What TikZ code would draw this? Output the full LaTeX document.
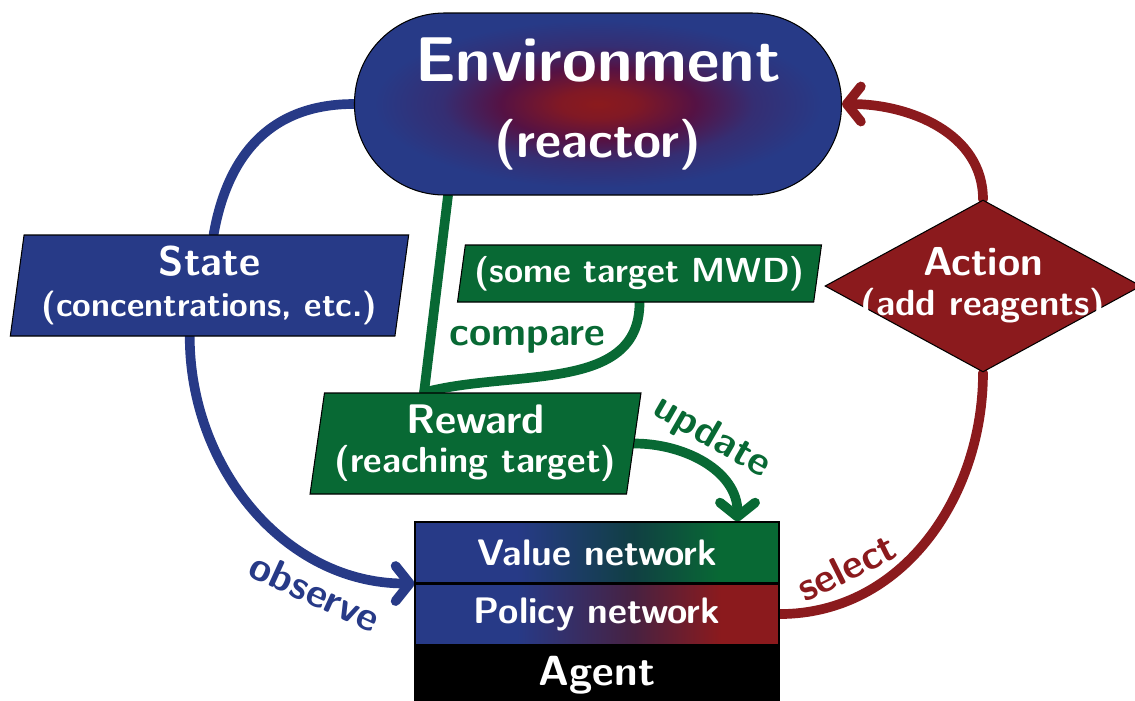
\documentclass[tikz,border=0pt]{standalone}
\usetikzlibrary{positioning,shapes.geometric,arrows.meta,backgrounds}
\definecolor{rlblue}{RGB}{39,58,135}
\definecolor{rlgreen}{RGB}{8,105,52}
\definecolor{rlred}{RGB}{139,26,29}
\definecolor{rlpurple}{RGB}{85,18,68}
\pgfdeclareradialshading{envglow}{\pgfpoint{0bp}{0bp}}{color(0bp)=(rlred); color(4bp)=(rlred!80!rlpurple); color(10bp)=(rlpurple); color(16bp)=(rlblue!70!rlpurple); color(23bp)=(rlblue); color(50bp)=(rlblue)}
\pgfdeclarehorizontalshading{valueshade}{100bp}{color(0bp)=(rlblue); color(39bp)=(rlblue); color(55bp)=(rlblue!45!rlgreen!75!black); color(67bp)=(rlgreen); color(100bp)=(rlgreen)}
\pgfdeclarehorizontalshading{policyshade}{100bp}{color(0bp)=(rlblue); color(39bp)=(rlblue); color(55bp)=(rlblue!50!rlred!80!black); color(67bp)=(rlred); color(100bp)=(rlred)}
\tikzset{
  box/.style={draw=black, line width=0.6pt, text=white, align=center, inner sep=0pt,
    font=\sffamily\bfseries\fontsize{19}{22}\selectfont},
  slantbox/.style={box, trapezium, trapezium stretches=true},
  flow/.style={line width=5.5pt, line cap=round},
  tip/.style={-{Straight Barb[length=8pt,width=20pt,round]}},
  word/.style={font=\sffamily\bfseries\fontsize{23}{26}\selectfont, inner sep=2pt}
}
\begin{document}
\begin{tikzpicture}
\useasboundingbox (0,0) rectangle (22.7,-14);
% boxes
\node[box, rounded corners=1.8cm, minimum width=9.74cm, minimum height=3.64cm, shading=envglow,
  font=\sffamily\bfseries\fontsize{36}{43}\selectfont] (env) at (11.96,-2.08)
  {Environment\\\fontsize{29}{43}\selectfont (reactor)};
\node[slantbox, fill=rlblue, trapezium left angle=81, trapezium right angle=99,
  minimum width=7.98cm, minimum height=2.02cm, font=\sffamily\bfseries\fontsize{19.3}{23}\selectfont] (state) at (4.19,-5.71)
  {{\fontsize{23.5}{23}\selectfont State}\\(concentrations, etc.)};
\node[slantbox, fill=rlgreen, trapezium left angle=78, trapezium right angle=102,
  minimum width=7.3cm, minimum height=1.14cm, font=\sffamily\bfseries\fontsize{19.8}{22}\selectfont] (target) at (12.79,-5.47)
  {(some target MWD)};
\node[slantbox, fill=rlgreen, trapezium left angle=80, trapezium right angle=100,
  minimum width=6.62cm, minimum height=2.02cm, font=\sffamily\bfseries\fontsize{20.6}{22}\selectfont] (reward) at (9.51,-8.87)
  {{\fontsize{23.5}{22}\selectfont Reward}\\(reaching target)};
\node[box, diamond, fill=rlred, minimum width=6.32cm, minimum height=3.44cm,
  font=\sffamily\bfseries\fontsize{20.7}{23}\selectfont] (action) at (19.66,-5.72)
  {\makebox[0pt]{\fontsize{23}{23}\selectfont Action}\\\makebox[0pt]{(add reagents)}};
\node[box, minimum width=7.28cm, minimum height=1.22cm, shading=valueshade,
  font=\sffamily\bfseries\fontsize{21}{24}\selectfont] (value) at (11.94,-11.05) {Value network};
\node[box, minimum width=7.28cm, minimum height=1.2cm, shading=policyshade, below=0pt of value,
  font=\sffamily\bfseries\fontsize{21}{24}\selectfont] (policy) {Policy network};
\node[box, minimum width=7.28cm, minimum height=1.2cm, fill=black, below=0pt of policy,
  font=\sffamily\bfseries\fontsize{24}{26}\selectfont] (agent) {Agent};
% loop
\begin{scope}[on background layer]
\draw[flow, rlblue] (env.west) to[out=180, in=80, looseness=1.1] ([xshift=3.8cm]state.top left corner);
\draw[flow, rlblue, tip] ([xshift=3.6cm]state.bottom left corner) to[out=-90, in=180]
  node[word, sloped, below=4pt, pos=0.76] {observe} (value.south west);
\draw[flow, rlgreen] ([xshift=-3cm]env.south) -- ([xshift=2cm]reward.top left corner);
\draw[flow, rlgreen] (target.south) to[out=-90, in=15]
  node[word, pos=0.3, anchor=south east, inner sep=0pt] {compare} ([xshift=2cm]reward.top left corner);
\draw[flow, rlgreen, tip] (reward.east) to[out=0, in=90]
  node[word, sloped, above, pos=0.45] {update} ([xshift=-0.84cm]value.north east);
\draw[flow, rlred] (policy.east) to[out=0, in=-90]
  node[word, sloped, above=5pt, pos=0.24] {select} (action.south);
\draw[flow, rlred, tip] (action.north) to[out=90, in=0] (env.east);
\end{scope}
\end{tikzpicture}
\end{document}
